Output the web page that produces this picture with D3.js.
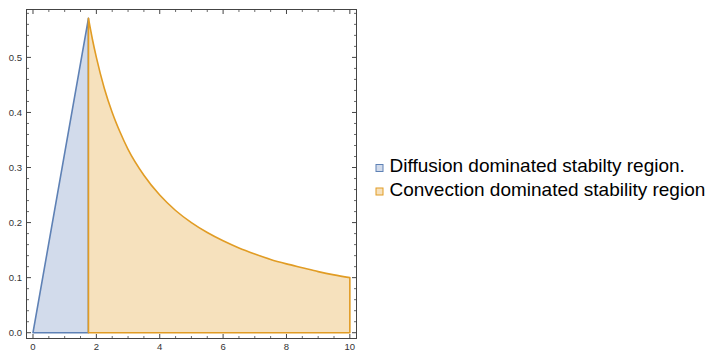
<!DOCTYPE html>
<html>
<head>
  <meta charset="utf-8">
  <title>stability regions</title>
  <script src="https://cdn.jsdelivr.net/npm/d3@7"></script>
  <style>
    body { margin: 0; padding: 0; background: #fff; }
    svg text { font-family: "Liberation Sans", Arial, sans-serif; }
  </style>
</head>
<body>
  <div id="chart"></div>
  <script>
    // diffusion region: straight line from origin to the peak, then down
    var diffX = [0, 1.75, 1.75]
    var diffY = [0, 0.571, 0]

    // convection region: upper boundary
    var convX = [1.75, 1.875, 2, 2.25, 2.5, 2.75, 3, 3.5, 4, 4.5, 5, 5.5, 6, 6.5, 7, 7.5, 8, 8.5, 9, 9.5, 10]
    var convY = [0.571, 0.533, 0.5, 0.444, 0.4, 0.364, 0.333, 0.286, 0.25, 0.222, 0.2, 0.182, 0.167, 0.154, 0.143, 0.133, 0.125, 0.118, 0.111, 0.105, 0.1]

    var xTicks = [0, 2, 4, 6, 8, 10]
    var yTicks = [0, 0.1, 0.2, 0.3, 0.4, 0.5]
    var legendLabels = ["Diffusion dominated stabilty region.", "Convection dominated stability region"]

    var W = 710, H = 352
    var mLeft = 26.5, mRight = 356.5, mTop = 9.5, mBottom = 338.5

    var svg = d3.select("#chart").append("svg")
      .attr("width", W).attr("height", H)

    var x = d3.scaleLinear().domain([-0.205, 10.21]).range([mLeft, mRight])
    var y = d3.scaleLinear().domain([-0.0105, 0.587]).range([mBottom, mTop])

    // regions
    var diffPts = diffX.map(function (d, i) { return [d, diffY[i]] })

    var line = d3.line()
      .x(function (d) { return x(d[0]) })
      .y(function (d) { return y(d[1]) })

    var smooth = d3.line()
      .x(function (d) { return x(d[0]) })
      .y(function (d) { return y(d[1]) })
      .curve(d3.curveMonotoneX)

    svg.append("path")
      .attr("d", line(diffPts) + "Z")
      .attr("fill", "#d2dbeb")
      .attr("stroke", "#5e81b5")
      .attr("stroke-width", 1.6)
      .attr("stroke-linejoin", "round")

    // convection: fill closed, stroke along the whole outline
    var curvePath = smooth(convX.map(function (d, i) { return [d, convY[i]] }))
    var x0 = x(convX[0]), x1 = x(convX[convX.length - 1]), y0 = y(0)
    var convD = "M" + x0 + "," + y0 + "L" + curvePath.slice(1) + "L" + x1 + "," + y0 + "Z"
    svg.append("path")
      .attr("d", convD)
      .attr("fill", "#f6e1bd")
      .attr("stroke", "#e19c24")
      .attr("stroke-width", 1.6)
      .attr("stroke-linejoin", "round")

    // frame and ticks
    var frameCol = "#444"
    var g = svg.append("g")
    g.append("rect")
      .attr("x", mLeft).attr("y", mTop)
      .attr("width", mRight - mLeft).attr("height", mBottom - mTop)
      .attr("fill", "none").attr("stroke", frameCol).attr("stroke-width", 1)

    var xMinor = d3.range(0, 10.01, 0.5)
    var yMinor = d3.range(0, 0.581, 0.02)

    xMinor.forEach(function (v) {
      var major = Math.abs(v / 2 - Math.round(v / 2)) < 1e-6
      var len = major ? 4.5 : 2.5
      g.append("line").attr("x1", x(v)).attr("x2", x(v)).attr("y1", mBottom).attr("y2", mBottom - len)
        .attr("stroke", frameCol).attr("stroke-width", major ? 1 : 0.8)
      g.append("line").attr("x1", x(v)).attr("x2", x(v)).attr("y1", mTop).attr("y2", mTop + len)
        .attr("stroke", frameCol).attr("stroke-width", major ? 1 : 0.8)
    })
    yMinor.forEach(function (v) {
      var major = Math.abs(v * 10 - Math.round(v * 10)) < 1e-6
      var len = major ? 4.5 : 2.5
      g.append("line").attr("y1", y(v)).attr("y2", y(v)).attr("x1", mLeft).attr("x2", mLeft + len)
        .attr("stroke", frameCol).attr("stroke-width", major ? 1 : 0.8)
      g.append("line").attr("y1", y(v)).attr("y2", y(v)).attr("x1", mRight).attr("x2", mRight - len)
        .attr("stroke", frameCol).attr("stroke-width", major ? 1 : 0.8)
    })

    g.selectAll(".xl").data(xTicks).enter().append("text")
      .attr("x", function (d) { return x(d) })
      .attr("y", 350)
      .attr("text-anchor", "middle")
      .attr("font-size", 9.5)
      .attr("fill", "#333")
      .text(function (d) { return d })

    g.selectAll(".yl").data(yTicks).enter().append("text")
      .attr("x", 22)
      .attr("y", function (d) { return y(d) + 3.3 })
      .attr("text-anchor", "end")
      .attr("font-size", 9.5)
      .attr("fill", "#333")
      .text(function (d) { return d.toFixed(1) })

    // legend
    var legFill = ["#d2dbeb", "#f6e1bd"]
    var legStroke = ["#5e81b5", "#e19c24"]
    var leg = svg.append("g")
    legendLabels.forEach(function (t, i) {
      var ly = 172 + i * 23.5
      leg.append("rect")
        .attr("x", 376).attr("y", ly - 7.5)
        .attr("width", 7).attr("height", 7)
        .attr("fill", legFill[i]).attr("stroke", legStroke[i]).attr("stroke-width", 1)
      leg.append("text")
        .attr("x", 389.5).attr("y", ly)
        .attr("font-size", 19)
        .attr("fill", "#000")
        .text(t)
    })
  </script>
</body>
</html>
